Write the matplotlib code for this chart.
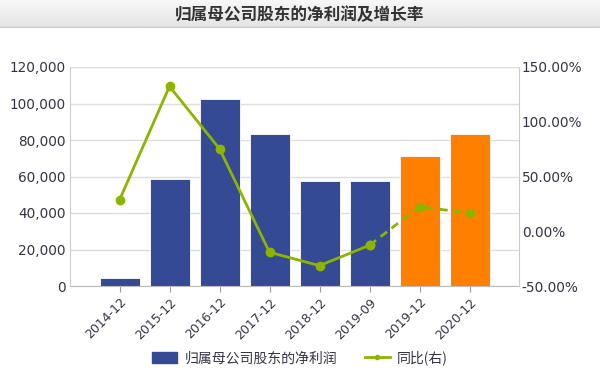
import numpy as np
import matplotlib
matplotlib.use('Agg')
import matplotlib.pyplot as plt
from matplotlib.patches import Rectangle
from matplotlib.lines import Line2D
from matplotlib.ticker import FuncFormatter

plt.rcParams['font.family'] = ['DejaVu Sans', 'Noto Sans CJK SC']

# dados
periodos = ['2014-12', '2015-12', '2016-12', '2017-12', '2018-12', '2019-09', '2019-12', '2020-12']
lucro = [4200, 58600, 102600, 83400, 57800, 57800, 71200, 83400]
crescimento = [28.6, 132.3, 75.3, -19.2, -31.4, -12.8, 22.5, 16.5]
previsao = [False, False, False, False, False, False, True, True]

azul = '#344a95'
laranja = '#ff7f00'
verde = '#8cb400'
cor_texto = '#333344'

fig = plt.figure(figsize=(6, 3.9), dpi=100)

# faixa do titulo
grad = np.linspace(0.97, 0.89, 50).reshape(-1, 1)
ax_t = fig.add_axes([0, 1 - 28 / 390, 1, 28 / 390])
ax_t.imshow(grad, cmap='gray', vmin=0, vmax=1, aspect='auto', extent=[0, 1, 0, 1])
ax_t.axhline(0.02, color='#c8c8c8', lw=1)
ax_t.set_axis_off()
fig.text(0.5, 1 - 15 / 390, '归属母公司股东的净利润及增长率', ha='center', va='center',
         fontsize=12, fontweight='bold', color='#333333', family=['Noto Sans CJK SC'])

ax = fig.add_axes([70 / 600, 1 - 286 / 390, 449 / 600, 219 / 390])
x = np.arange(len(periodos))
cores = [laranja if p else azul for p in previsao]
ax.bar(x, lucro, width=0.8, color=cores, edgecolor='white', linewidth=0.6, zorder=2)
ax.set_xlim(-0.99, 7.99)
ax.set_ylim(0, 120000)
ax.set_yticks(np.arange(0, 120001, 20000))
ax.yaxis.set_major_formatter(FuncFormatter(lambda v, p: f'{int(v):,}'))
ax.grid(axis='y', color='#dddddd', lw=1, zorder=0)
ax.set_xticks(x)
ax.set_xticklabels(periodos, rotation=45, ha='right', rotation_mode='anchor')
ax.tick_params(axis='x', length=4, color='#999999', labelsize=9, labelcolor=cor_texto, pad=3)
ax.tick_params(axis='y', length=0, labelsize=9.8, labelcolor=cor_texto, pad=3)
for s in ['top', 'right']:
    ax.spines[s].set_visible(False)
ax.spines['left'].set_color('#cccccc')
ax.spines['bottom'].set_color('#bbbbbb')

ax2 = ax.twinx()
ax2.set_ylim(-50, 150)
ax2.set_yticks(np.arange(-50, 151, 50))
ax2.yaxis.set_major_formatter(FuncFormatter(lambda v, p: f'{v:.2f}%'))
ax2.tick_params(axis='y', length=0, labelsize=9.8, labelcolor=cor_texto, pad=2)
for s in ['top', 'left', 'bottom']:
    ax2.spines[s].set_visible(False)
ax2.spines['right'].set_color('#cccccc')

n_real = previsao.index(True)
ax2.plot(x[:n_real], crescimento[:n_real], color=verde, lw=2, marker='o', ms=6, zorder=3)
ax2.plot(x[n_real - 1:], crescimento[n_real - 1:], color=verde, lw=2, ls=(0, (3, 2)),
         marker='o', ms=6, zorder=3)

# legenda
handles = [Rectangle((0, 0), 1, 1, color=azul),
           Line2D([], [], color=verde, lw=2, marker='o', ms=3)]
fig.legend(handles, ['归属母公司股东的净利润', '同比(右)'], loc='center',
           bbox_to_anchor=(0.5, 1 - 358 / 390), ncol=2, frameon=False,
           prop={'family': 'Noto Sans CJK SC', 'size': 10}, labelcolor=cor_texto,
           handlelength=1.8, handleheight=0.9, handletextpad=0.5, columnspacing=2.0)

fig.savefig('out.png', dpi=100, facecolor='white')
